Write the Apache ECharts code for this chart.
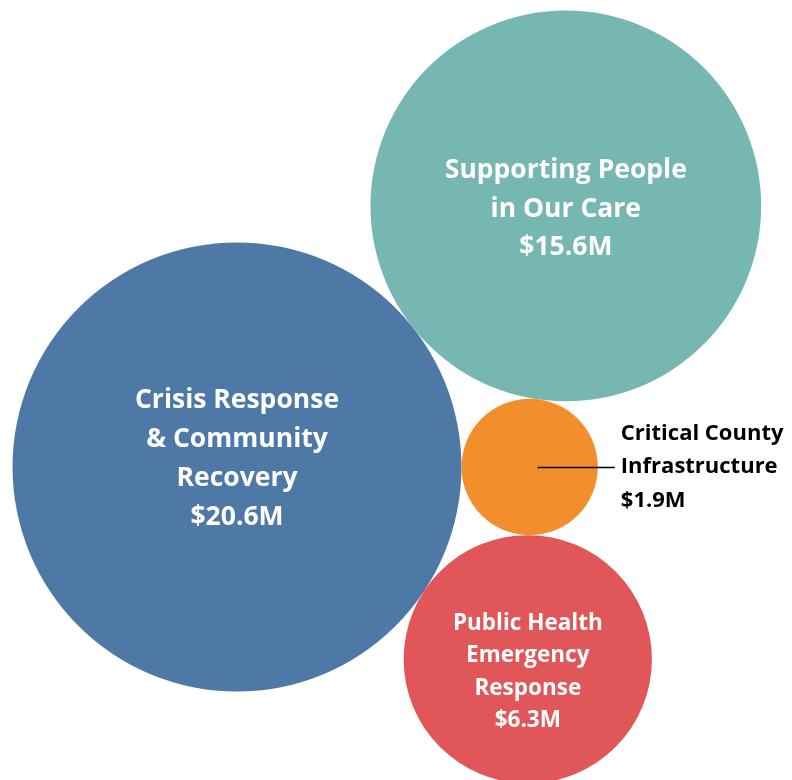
<!DOCTYPE html>
<html>
<head>
<meta charset="utf-8">
<script src="https://cdn.jsdelivr.net/npm/echarts@6/dist/echarts.min.js"></script>
<style>
  html, body { margin: 0; padding: 0; background: #fff; }
  #chart { width: 792px; height: 780px; }
</style>
</head>
<body>
<div id="chart"></div>
<script>
// Funding areas and amounts ($ millions)
const categories = [
  'Crisis Response\n& Community\nRecovery',
  'Supporting People\nin Our Care',
  'Critical County\nInfrastructure',
  'Public Health\nEmergency\nResponse'
];
const values = [20.6, 15.6, 1.9, 6.3];
const valueLabels = ['$20.6M', '$15.6M', '$1.9M', '$6.3M'];
const colors = ['#4E79A7', '#76B7B2', '#F28E2B', '#E15759'];

// Bubble area is proportional to the amount
const K = 49.46;
const radius = v => K * Math.sqrt(v);

// Packed layout: big bubble anchored, small one touching it on the right,
// the other two nestled against both, above and below.
function nestle(A, rA, B, rB, r, side) {
  const dx = B[0] - A[0], dy = B[1] - A[1];
  const d = Math.hypot(dx, dy);
  const dA = rA + r, dB = rB + r;
  const a = (dA * dA - dB * dB + d * d) / (2 * d);
  const h = Math.sqrt(Math.max(0, dA * dA - a * a));
  const ux = dx / d, uy = dy / d;
  return [A[0] + a * ux - side * h * uy, A[1] + a * uy + side * h * ux];
}
const r = values.map(radius);
const centers = [];
centers[0] = [237, 467];
centers[2] = [centers[0][0] + r[0] + r[2], centers[0][1]];
centers[1] = nestle(centers[0], r[0], centers[2], r[2], r[1], -1);
centers[3] = nestle(centers[0], r[0], centers[2], r[2], r[3], 1);

const labelStyles = [
  { fontSize: 26.5, lineHeight: 39, offset: [0, -8], color: '#fff', position: 'inside' },
  { fontSize: 26.5, lineHeight: 38.5, offset: [0, 3], color: '#fff', position: 'inside' },
  { fontSize: 22, lineHeight: 33.5, offset: [0, 0], color: '#000', position: 'right', distance: 23, align: 'left' },
  { fontSize: 22.5, lineHeight: 32.5, offset: [0, 13], color: '#fff', position: 'inside' }
];

const data = values.map((v, i) => {
  const s = labelStyles[i];
  return {
    name: categories[i],
    value: [centers[i][0], centers[i][1], v],
    itemStyle: { color: colors[i] },
    label: {
      show: true,
      formatter: categories[i] + '\n' + valueLabels[i],
      position: s.position,
      distance: s.distance || 0,
      offset: s.offset,
      align: s.align || 'center',
      verticalAlign: 'middle',
      color: s.color,
      fontFamily: 'Open Sans',
      fontWeight: 'bold',
      fontSize: s.fontSize,
      lineHeight: s.lineHeight
    }
  };
});

// Leader line from the small bubble to its outside label
const oc = centers[2];
const leader = [[{ coord: [oc[0] + 8, oc[1]] }, { coord: [oc[0] + r[2] + 17, oc[1]] }]];

const chart = echarts.init(document.getElementById('chart'), null, { renderer: 'canvas' });
chart.setOption({
  animation: false,
  backgroundColor: '#fff',
  grid: { left: 0, right: 0, top: 0, bottom: 0 },
  xAxis: { type: 'value', min: 0, max: 792, show: false },
  yAxis: { type: 'value', min: 0, max: 780, inverse: true, show: false },
  series: [{
    type: 'scatter',
    symbol: 'circle',
    symbolSize: val => 2 * radius(val[2]),
    itemStyle: { opacity: 1 },
    emphasis: { disabled: true },
    data: data,
    markLine: {
      silent: true,
      symbol: ['none', 'none'],
      label: { show: false },
      lineStyle: { color: '#000', width: 1.3, type: 'solid' },
      data: leader
    }
  }]
});
</script>
</body>
</html>
